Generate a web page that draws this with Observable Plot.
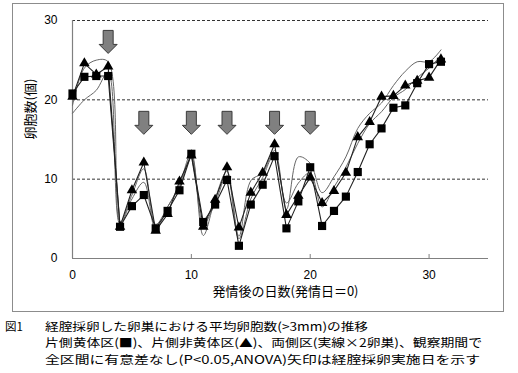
<!DOCTYPE html>
<html>
<head>
<meta charset="utf-8">
<script src="https://cdn.jsdelivr.net/npm/d3@7"></script>
<script src="https://cdn.jsdelivr.net/npm/@observablehq/plot@0.6"></script>
<style>
  html, body { margin: 0; padding: 0; background: #fff; }
  #page { position: relative; width: 518px; height: 373px; overflow: hidden; background: #fff; }
  #frame { position: absolute; left: 12px; top: 3px; width: 492px; height: 309px; box-sizing: border-box; border: 1px solid #8c8c8c; }
  #chart { position: absolute; left: 0; top: 0; }
  #caption { position: absolute; left: 0; top: 312px; }
</style>
</head>
<body>
<div id="page">
  <div id="frame"></div>
  <div id="chart"></div>
  <div id="caption"></div>
</div>
<script>
// ---- data ----
const days = [0,1,2,3,4,5,6,7,8,9,10,11,12,13,14,15,16,17,18,19,20,21,22,23,24,25,26,27,28,29,30,31];
// 片側黄体区 (■)
const squareVals = [20.8,22.9,23.0,23.0,4.0,6.6,8.0,3.8,6.0,8.6,13.2,4.6,6.8,9.9,1.6,6.8,9.3,12.9,3.8,7.2,11.5,4.1,6.0,7.8,10.9,14.4,16.4,19.0,19.3,22.1,24.5,24.8];
// 片側非黄体区 (▲)
const triangleVals = [20.4,24.6,23.2,24.2,4.0,8.6,12.1,3.5,5.6,9.7,13.0,4.0,7.4,11.5,3.9,8.3,10.8,14.4,5.5,7.9,10.2,7.0,8.5,10.8,15.3,17.2,20.4,20.5,21.8,22.4,22.8,25.1];
// 両側区 (実線 × 2卵巣)
const bothOvaryA = [19.3,24.0,25.0,24.8,4.6,8.0,11.3,4.3,6.5,9.3,13.3,2.9,7.5,11.0,2.8,9.8,10.8,13.6,6.2,12.8,12.0,8.3,10.3,12.8,16.4,18.3,19.6,21.8,23.6,24.8,24.8,26.3];
const bothOvaryB = [18.3,20.0,21.2,23.5,4.3,7.5,9.6,3.6,6.5,9.0,12.9,4.3,7.0,10.5,2.5,7.5,10.2,13.2,7.0,9.5,10.8,6.5,9.0,11.5,14.5,17.0,18.5,20.3,21.3,22.8,24.0,25.6];
// 経腟採卵実施日 (矢印)
const arrowDays = [3,6,10,13,17,20];
const arrowLevels = [27.3,17.1,17.1,17.1,17.1,17.1];
// ticks & labels
const xTicks = [0,10,20,30];
const yTicks = [0,10,20,30];
const xLabel = "発情後の日数(発情日＝0)";
const yLabel = "卵胞数(個)";
const captionNo = "図1";
const captionLines = [
  "経腟採卵した卵巣における平均卵胞数(>3mm)の推移",
  "片側黄体区(■)、片側非黄体区(▲)、両側区(実線×2卵巣)、観察期間で",
  "全区間に有意差なし(P<0.05,ANOVA)矢印は経腟採卵実施日を示す"
];

// ---- build tables ----
const rows = days.map((d, i) => ({day: d, sq: squareVals[i], tri: triangleVals[i], a: bothOvaryA[i], b: bothOvaryB[i]}));
const arrows = arrowDays.map((d, i) => ({day: d, level: arrowLevels[i]}));

const arrowSymbol = {
  draw(ctx) {
    ctx.moveTo(-5, -11.5);
    ctx.lineTo(5, -11.5);
    ctx.lineTo(5, 2.5);
    ctx.lineTo(9, 2.5);
    ctx.lineTo(0, 11.5);
    ctx.lineTo(-9, 2.5);
    ctx.lineTo(-5, 2.5);
    ctx.closePath();
  }
};

const jp = "'Noto Sans CJK JP', 'Noto Sans CJK SC', sans-serif";

const chart = Plot.plot({
  width: 518,
  height: 312,
  marginLeft: 72,
  marginRight: 30,
  marginTop: 20,
  marginBottom: 54,
  x: {domain: [0, 35]},
  y: {domain: [0, 30]},
  style: {fontFamily: "'Liberation Sans', Arial, sans-serif", fontSize: "12px", color: "black", background: "transparent"},
  marks: [
    Plot.ruleY(yTicks.filter(t => t > 0), {stroke: "#333", strokeDasharray: "3,2", strokeWidth: 1}),
    Plot.ruleY([0], {stroke: "#808080", strokeWidth: 1.2}),
    Plot.ruleX([0], {stroke: "#808080", strokeWidth: 1.2}),
    Plot.axisY({ticks: yTicks, tickSize: 0, tickPadding: 15, label: null}),
    Plot.axisX({ticks: xTicks, tickSize: 0, tickPadding: 12, label: null}),
    Plot.axisX({ticks: xTicks.filter(t => t > 0), tickSize: 4, dy: -4, tickFormat: () => "", label: null, stroke: "#808080"}),
    Plot.line(rows, {x: "day", y: "a", curve: "catmull-rom", stroke: "#666", strokeWidth: 1}),
    Plot.line(rows, {x: "day", y: "b", curve: "catmull-rom", stroke: "#666", strokeWidth: 1}),
    Plot.line(rows, {x: "day", y: "tri", stroke: "#222", strokeWidth: 1.1}),
    Plot.line(rows, {x: "day", y: "sq", stroke: "#222", strokeWidth: 1.1}),
    Plot.dot(rows, {x: "day", y: "tri", symbol: "triangle", r: 3.9, fill: "black"}),
    Plot.dot(rows, {x: "day", y: "sq", symbol: "square", r: 4.6, fill: "black"}),
    Plot.dot(arrows, {x: "day", y: "level", symbol: arrowSymbol, r: 5, fill: "#808080", stroke: "#3a3a3a", strokeWidth: 1}),
    Plot.text([xLabel], {text: d => d, frameAnchor: "bottom", dy: 37, dx: 5, fontSize: 13, fontFamily: jp}),
    Plot.text([yLabel], {text: d => d, frameAnchor: "left", rotate: -90, dx: -42, fontSize: 13, fontFamily: jp})
  ]
});
document.getElementById("chart").appendChild(chart);

// ---- caption ----
const cap = d3.select("#caption").append("svg").attr("width", 518).attr("height", 61)
  .style("font-family", jp).style("font-size", "11.5px");
const capSpecs = [{y: 18.5, len: 323}, {y: 35.2, len: 437}, {y: 51.9, len: 435}];
cap.append("text").attr("x", 5).attr("y", capSpecs[0].y).text(captionNo);
captionLines.forEach((t, i) => {
  cap.append("text").attr("x", 45).attr("y", capSpecs[i].y)
    .attr("textLength", capSpecs[i].len).attr("lengthAdjust", "spacingAndGlyphs").text(t);
});
</script>
</body>
</html>
